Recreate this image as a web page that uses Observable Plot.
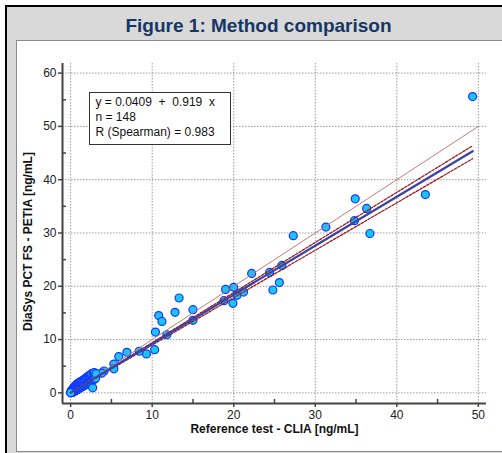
<!DOCTYPE html>
<html><head><meta charset="utf-8">
<script src="https://cdn.jsdelivr.net/npm/d3@7"></script>
<script src="https://cdn.jsdelivr.net/npm/@observablehq/plot@0.6"></script>
<style>
html,body{margin:0;padding:0;background:#fff;width:502px;height:453px;overflow:hidden;font-family:Arial,"Liberation Sans",sans-serif;}
#outer{position:absolute;left:5px;top:5px;width:520px;height:460px;border-left:2px solid #000;border-top:2px solid #000;background:#d9d9d9;}
#title{position:absolute;left:0;top:15px;width:517px;text-align:center;font-size:19px;line-height:22px;font-weight:bold;color:#163764;}
#panel{position:absolute;left:16px;top:40px;width:500px;height:410px;background:#fff;border-left:1px solid #8c8c8c;border-top:1px solid #8c8c8c;border-bottom:1px solid #8c8c8c;}
#chart{position:absolute;left:16px;top:40px;}
#legend{position:absolute;left:89px;top:92px;width:134px;height:49px;border:1.5px solid #333;background:#fff;padding:2px 0 0 5.5px;font-size:12px;line-height:15px;color:#111;white-space:pre;}
</style></head>
<body>
<div id="outer"></div>
<div id="title">Figure 1: Method comparison</div>
<div id="panel"></div>
<div id="chart"></div>
<div id="legend"></div>
<script>
// Reference test (CLIA) values, ng/mL
const refX = [
  49.3, 43.5, 34.9, 36.3, 34.8, 31.3, 36.7,
  27.3, 25.9, 24.4, 22.2, 25.6, 24.8, 19.0, 20.0, 20.4, 21.2, 18.8, 19.9,
  13.3, 10.8, 11.2, 12.8, 15.0, 15.0, 10.4, 11.8, 10.3, 9.3, 8.4, 6.9,
  5.9, 5.3, 5.3, 4.1, 3.8, 3.1,
  0.02, 0.03, 0.04, 0.05, 0.05, 0.06, 0.07, 0.08, 0.08, 0.09,
  0.10, 0.11, 0.12, 0.13, 0.14, 0.15, 0.16, 0.17, 0.18, 0.19,
  0.20, 0.21, 0.22, 0.24, 0.25, 0.26, 0.28, 0.29, 0.30, 0.32,
  0.33, 0.35, 0.36, 0.38, 0.40, 0.41, 0.43, 0.45, 0.47, 0.48,
  0.50, 0.52, 0.54, 0.56, 0.58, 0.60, 0.62, 0.64, 0.66, 0.68,
  0.70, 0.72, 0.75, 0.78, 0.80, 0.83, 0.86, 0.88, 0.90, 0.93,
  0.96, 1.00, 1.02, 1.05, 1.08, 1.12, 1.15, 1.20, 1.25, 1.30,
  1.35, 1.40, 1.45, 1.50, 1.55, 1.60, 1.65, 1.70, 1.75, 1.80,
  1.85, 1.90, 1.95, 2.00, 2.05, 2.10, 2.15, 2.20, 2.25, 2.30,
  2.35, 2.40, 2.45, 2.50, 2.55, 2.60, 2.65, 2.70, 2.75, 2.80,
  2.85, 2.90, 2.95, 3.00, 3.05, 3.10, 0.01
];
// DiaSys PCT FS (PETIA) values, ng/mL
const diasysY = [
  55.6, 37.2, 36.4, 34.6, 32.3, 31.1, 29.9,
  29.5, 23.9, 22.6, 22.4, 20.7, 19.3, 19.4, 19.8, 18.3, 18.9, 17.3, 16.8,
  17.8, 14.5, 13.4, 15.1, 15.6, 13.6, 11.4, 10.9, 8.1, 7.3, 7.8, 7.6,
  6.8, 5.4, 4.5, 4.1, 3.7, 3.1,
  0.05, 0.04, 0.18, 0.06, 0.03, 0.29, 0.05, 0.10, 0.07, 0.32,
  0.08, 0.41, 0.14, 0.10, 0.46, 0.13, 0.12, 0.58, 0.15, 0.20,
  0.17, 0.62, 0.09, 0.55, 0.11, 0.68, 0.24, 0.71, 0.17, 0.75,
  0.29, 0.88, 0.21, 0.92, 0.36, 0.95, 0.29, 1.10, 0.41, 1.05,
  0.36, 1.18, 0.38, 1.22, 0.42, 1.30, 0.45, 1.35, 0.50, 1.40,
  0.54, 1.50, 0.58, 1.55, 0.62, 1.65, 0.68, 1.70, 0.75, 1.80,
  0.78, 1.85, 0.82, 1.95, 0.88, 2.00, 0.95, 2.05, 1.05, 2.10,
  1.12, 2.20, 1.20, 2.35, 1.30, 2.45, 1.38, 2.55, 1.48, 2.70,
  1.55, 2.80, 1.68, 2.90, 1.75, 3.00, 1.85, 3.15, 1.95, 3.25,
  2.05, 3.35, 2.10, 3.50, 2.25, 3.60, 2.35, 0.95, 2.45, 3.70,
  2.50, 3.80, 2.60, 3.10, 2.75, 3.60, 0.02
];
// Regression results
const intercept = 0.0409, slope = 0.919;
const ciUpper = {intercept: 0.02, slope: 0.940};
const ciLower = {intercept: 0.06, slope: 0.890};
const fitRange = [0, 49.3];
const identityRange = [0, 50];
const nSamples = 148, spearmanR = 0.983;
const xDomain = [-1, 51], yDomain = [-2, 61.8];
const majorX = [0, 10, 20, 30, 40, 50], minorX = [5, 15, 25, 35, 45];
const majorY = [0, 10, 20, 30, 40, 50, 60], minorY = [5, 15, 25, 35, 45, 55];
const xLabel = "Reference test - CLIA [ng/mL]";
const yLabel = "DiaSys PCT FS - PETIA [ng/mL]";

const points = refX.map((x, i) => ({x, y: diasysY[i]}));
const line = (r, a, b) => r.map(x => ({x, y: a + b * x}));
const fit = line(fitRange, intercept, slope);
const up = line(fitRange, ciUpper.intercept, ciUpper.slope);
const lo = line(fitRange, ciLower.intercept, ciLower.slope);
const ident = line(identityRange, 0, 1);

const axisColor = "#444";
const plot = Plot.plot({
  width: 486, height: 411,
  marginLeft: 46, marginRight: 16, marginTop: 23, marginBottom: 48,
  style: {fontFamily: "Arial, 'Liberation Sans', sans-serif", fontSize: "12px", color: "#222", background: "transparent"},
  x: {domain: xDomain},
  y: {domain: yDomain},
  marks: [
    Plot.gridX(majorX, {stroke: "#9a9a9a", strokeOpacity: 1, strokeDasharray: "1.5,1.5"}),
    Plot.gridY(majorY, {stroke: "#9a9a9a", strokeOpacity: 1, strokeDasharray: "1.5,1.5"}),
    Plot.dot(points, {x: "x", y: "y", r: 4, fill: "#1cc4f6", stroke: "#1437ff", strokeWidth: 1.2}),
    Plot.line(ident, {x: "x", y: "y", stroke: "#c07a7a", strokeWidth: 1}),
    Plot.line(up, {x: "x", y: "y", stroke: "#9c1c1c", strokeWidth: 1.3, strokeDasharray: "2.5,1.5"}),
    Plot.line(lo, {x: "x", y: "y", stroke: "#9c1c1c", strokeWidth: 1.3, strokeDasharray: "2.5,1.5"}),
    Plot.line(fit, {x: "x", y: "y", stroke: "#3a44a6", strokeWidth: 2.3}),
    Plot.axisX(majorX, {tickSize: 4, tickPadding: 3, stroke: axisColor, strokeWidth: 1.5, label: null, fill: "#222"}),
    Plot.axisX(minorX, {tickSize: 4, dy: -4, tickFormat: () => "", stroke: axisColor, strokeWidth: 1.5, label: null}),
    Plot.axisY(majorY, {tickSize: 4, tickPadding: 2, stroke: axisColor, strokeWidth: 1.5, label: null, fill: "#222"}),
    Plot.axisY(minorY, {tickSize: 4, dx: 4, tickFormat: () => "", stroke: axisColor, strokeWidth: 1.5, label: null}),
    Plot.ruleX([xDomain[0]], {stroke: axisColor, strokeWidth: 2}),
    Plot.ruleY([yDomain[0]], {stroke: axisColor, strokeWidth: 2}),
    Plot.text([xLabel], {frameAnchor: "bottom", dy: 29, fontWeight: "bold", fontSize: 12, fill: "#111"}),
    Plot.text([yLabel], {frameAnchor: "left", textAnchor: "middle", dx: -34, dy: 8, rotate: -90, fontWeight: "bold", fontSize: 12, fill: "#111"})
  ]
});
document.getElementById("chart").appendChild(plot);
document.getElementById("legend").textContent =
  `y = ${intercept}  +  ${slope}  x\nn = ${nSamples}\nR (Spearman) = ${spearmanR}`;
</script>
</body></html>
